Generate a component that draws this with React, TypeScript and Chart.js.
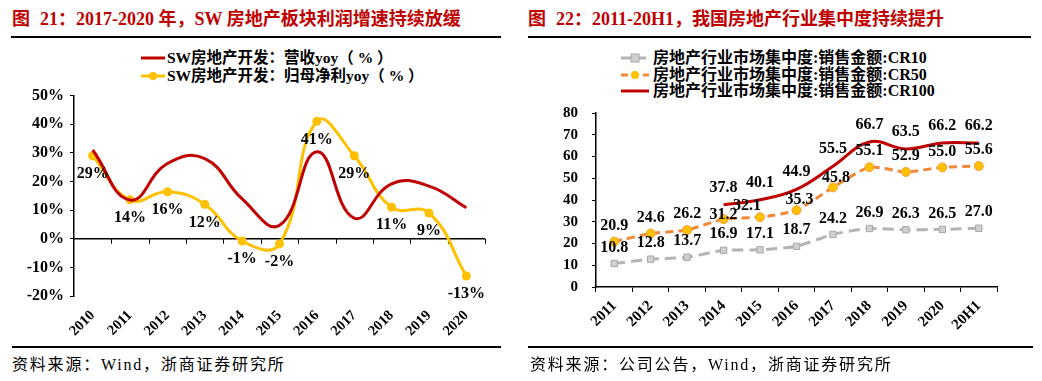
import React, { useEffect, useRef } from "react";
import { Chart, registerables } from "chart.js";

Chart.register(...registerables);

const FONT = '"Liberation Serif", "Noto Sans CJK SC", serif';

// ---- Left chart data ----
const leftYears = ["2010", "2011", "2012", "2013", "2014", "2015", "2016", "2017", "2018", "2019", "2020"];
const revenueYoy = [31, 13.5, 26.3, 28, 13.9, 4.7, 30.4, 7.2, 19.2, 18.4, 10.8];
const profitYoy = [29, 13.6, 16.4, 12, -0.8, -1.8, 41, 29, 11, 9, -13];
const leftYMin = -20;
const leftYMax = 50;
const leftYStep = 10;

// ---- Right chart data ----
const rightPeriods = ["2011", "2012", "2013", "2014", "2015", "2016", "2017", "2018", "2019", "2020", "20H1"];
const cr10 = [10.8, 12.8, 13.7, 16.9, 17.1, 18.7, 24.2, 26.9, 26.3, 26.5, 27.0];
const cr50 = [20.9, 24.6, 26.2, 31.2, 32.1, 35.3, 45.8, 55.1, 52.9, 55.0, 55.6];
const cr100 = [null, null, null, 37.8, 40.1, 44.9, 55.5, 66.7, 63.5, 66.2, 66.2];
const rightYMin = 0;
const rightYMax = 80;
const rightYStep = 10;

const RED = "#c00000";
const YELLOW = "#ffc000";
const ORANGE = "#f0883a";
const GREY = "#b4b4b4";

type LabelCfg = {
  dataset: number;
  format: (v: number) => string;
  dy: number;
  offsets?: ([number, number] | null)[];
};

function makeLabelPlugin(cfgs: LabelCfg[], fontSize: number) {
  return {
    id: "valueLabels",
    afterDatasetsDraw(chart: any) {
      const ctx = chart.ctx;
      ctx.save();
      ctx.font = `bold ${fontSize}px ${FONT}`;
      ctx.fillStyle = "#000";
      ctx.textAlign = "center";
      ctx.textBaseline = "middle";
      cfgs.forEach((cfg) => {
        const ds = chart.data.datasets[cfg.dataset];
        const meta = chart.getDatasetMeta(cfg.dataset);
        meta.data.forEach((el: any, j: number) => {
          const v = ds.data[j];
          if (v == null) return;
          const off = cfg.offsets && cfg.offsets[j] ? cfg.offsets[j]! : [0, cfg.dy];
          ctx.fillText(cfg.format(v), el.x + off[0], el.y + off[1]);
        });
      });
      ctx.restore();
    },
  };
}

const zeroLinePlugin = {
  id: "zeroLine",
  beforeDatasetsDraw(chart: any) {
    const { ctx, chartArea, scales } = chart;
    const y0 = scales.y.getPixelForValue(0);
    const n = chart.data.labels.length;
    const w = (chartArea.right - chartArea.left) / n;
    ctx.save();
    ctx.strokeStyle = "#000";
    ctx.lineWidth = 1.5;
    ctx.beginPath();
    ctx.moveTo(chartArea.left, y0);
    ctx.lineTo(chartArea.right, y0);
    ctx.stroke();
    ctx.lineWidth = 1;
    for (let i = 1; i <= n; i++) {
      const x = Math.round(chartArea.left + i * w) + 0.5;
      ctx.beginPath();
      ctx.moveTo(x, y0);
      ctx.lineTo(x, y0 + 5);
      ctx.stroke();
    }
    ctx.restore();
  },
};

function LeftChart() {
  const ref = useRef<HTMLCanvasElement>(null);
  useEffect(() => {
    const chart = new Chart(ref.current!, {
      type: "line",
      data: {
        labels: leftYears,
        datasets: [
          {
            label: "SW房地产开发：营收yoy（%）",
            data: revenueYoy,
            borderColor: RED,
            backgroundColor: RED,
            borderWidth: 3,
            pointRadius: 0,
            tension: 0.45,
          },
          {
            label: "SW房地产开发：归母净利yoy（%）",
            data: profitYoy,
            borderColor: YELLOW,
            backgroundColor: YELLOW,
            borderWidth: 3,
            pointRadius: 4.5,
            pointBorderWidth: 0,
            tension: 0.45,
          },
        ],
      },
      options: {
        responsive: false,
        animation: false,
        devicePixelRatio: 1,
        layout: { padding: { top: 12, right: 15, left: 0, bottom: 0 } },
        plugins: { legend: { display: false }, tooltip: { enabled: false } },
        scales: {
          x: {
            offset: true,
            grid: { display: false, drawTicks: false },
            border: { display: false },
            ticks: {
              minRotation: 45,
              maxRotation: 45,
              autoSkip: false,
              padding: 11,
              color: "#000",
              font: { family: FONT, size: 14.5, weight: "bold" },
            },
            afterFit: (s: any) => {
              s.height = 49;
            },
          },
          y: {
            min: leftYMin,
            max: leftYMax,
            ticks: {
              stepSize: leftYStep,
              padding: 6,
              color: "#000",
              font: { family: FONT, size: 16, weight: "bold" },
              callback: (v: any) => `${v}%`,
            },
            grid: { drawOnChartArea: false, drawTicks: true, tickLength: 4, color: "#000" },
            border: { display: true, color: "#000", width: 1.5 },
            afterFit: (s: any) => {
              s.width = 74;
            },
          },
        },
      },
      plugins: [
        zeroLinePlugin,
        makeLabelPlugin([{ dataset: 1, format: (v) => `${Math.round(v)}%`, dy: 18 }], 16),
      ],
    } as any);
    return () => chart.destroy();
  }, []);
  return <canvas ref={ref} width={500} height={265} style={{ position: "absolute", left: 0, top: 80 }} />;
}

function RightChart() {
  const ref = useRef<HTMLCanvasElement>(null);
  useEffect(() => {
    const chart = new Chart(ref.current!, {
      type: "line",
      data: {
        labels: rightPeriods,
        datasets: [
          {
            label: "房地产行业市场集中度:销售金额:CR10",
            data: cr10,
            borderColor: GREY,
            backgroundColor: "#d0d0d0",
            borderWidth: 3,
            borderDash: [11, 6],
            pointStyle: "rect",
            pointRadius: 4.5,
            pointBorderColor: "#a8a8a8",
            pointBorderWidth: 1,
            tension: 0.2,
          },
          {
            label: "房地产行业市场集中度:销售金额:CR50",
            data: cr50,
            borderColor: ORANGE,
            backgroundColor: YELLOW,
            borderWidth: 3,
            borderDash: [8, 5],
            pointRadius: 4.5,
            pointBorderColor: "#f5a040",
            pointBorderWidth: 1,
            tension: 0.2,
          },
          {
            label: "房地产行业市场集中度:销售金额:CR100",
            data: cr100,
            borderColor: RED,
            backgroundColor: RED,
            borderWidth: 3,
            pointRadius: 0,
            tension: 0.4,
          },
        ],
      },
      options: {
        responsive: false,
        animation: false,
        devicePixelRatio: 1,
        layout: { padding: { top: 12, right: 38, left: 0, bottom: 0 } },
        plugins: { legend: { display: false }, tooltip: { enabled: false } },
        scales: {
          x: {
            offset: true,
            grid: { offset: true, drawOnChartArea: false, drawTicks: true, tickLength: 5, color: "#000" },
            border: { display: true, color: "#000", width: 1.5 },
            ticks: {
              minRotation: 45,
              maxRotation: 45,
              autoSkip: false,
              padding: 5,
              color: "#000",
              font: { family: FONT, size: 15, weight: "bold" },
            },
            afterFit: (s: any) => {
              s.height = 63;
            },
          },
          y: {
            min: rightYMin,
            max: rightYMax,
            ticks: {
              stepSize: rightYStep,
              padding: 14,
              color: "#000",
              font: { family: FONT, size: 15, weight: "bold" },
            },
            grid: { drawOnChartArea: false, drawTicks: true, tickLength: 4, color: "#000" },
            border: { display: true, color: "#000", width: 1.5 },
            afterFit: (s: any) => {
              s.width = 76;
            },
          },
        },
      },
      plugins: [
        makeLabelPlugin(
          [
            { dataset: 0, format: (v) => v.toFixed(1), dy: -16 },
            {
              dataset: 1,
              format: (v) => v.toFixed(1),
              dy: -16,
              offsets: [null, null, null, [0, -4], [-13, -11], [3, -10], [3, -10], null, null, null, null],
            },
            { dataset: 2, format: (v) => v.toFixed(1), dy: -17 },
          ],
          16
        ),
      ],
    } as any);
    return () => chart.destroy();
  }, []);
  return <canvas ref={ref} width={515} height={260} style={{ position: "absolute", left: 520, top: 90 }} />;
}

const abs = (s: React.CSSProperties): React.CSSProperties => ({ position: "absolute", ...s });

function LineSample({ color, dash, marker, width }: { color: string; dash?: string; marker?: "circle" | "rect"; width: number }) {
  return (
    <svg width={width} height={10} style={{ display: "block" }}>
      <line x1={0} y1={5} x2={width} y2={5} stroke={color} strokeWidth={3} strokeDasharray={dash} />
      {marker === "circle" && <circle cx={width / 2} cy={5} r={4} fill={YELLOW} />}
      {marker === "rect" && <rect x={width / 2 - 4} y={1} width={8} height={8} fill="#d0d0d0" stroke="#a8a8a8" strokeWidth={1} />}
    </svg>
  );
}

export default function App() {
  const titleStyle: React.CSSProperties = {
    fontSize: 18,
    fontWeight: "bold",
    color: RED,
    lineHeight: "22px",
    whiteSpace: "nowrap",
  };
  const legendText: React.CSSProperties = {
    fontWeight: "bold",
    color: "#000",
    whiteSpace: "nowrap",
    display: "flex",
    alignItems: "center",
  };
  const sourceStyle: React.CSSProperties = {
    fontSize: 16,
    letterSpacing: 1.8,
    color: "#000",
    whiteSpace: "nowrap",
    lineHeight: "20px",
  };
  return (
    <div style={abs({ left: 0, top: 0, width: 1042, height: 381, background: "#fff", fontFamily: FONT, overflow: "hidden" })}>
      {/* Left panel */}
      <div style={abs({ left: 12, top: 8, ...titleStyle })}>
        图<span style={{ marginLeft: 10 }}>21：2017-2020 年，SW 房地产板块利润增速持续放缓</span>
      </div>
      <div style={abs({ left: 11, top: 36, width: 490, height: 1.5, background: "#000" })} />
      <div style={abs({ left: 141, top: 49, fontSize: 15.5, lineHeight: "18px" })}>
        <div style={legendText}>
          <LineSample color={RED} width={24} />
          <span style={{ marginLeft: 2 }}>SW房地产开发：营收yoy（ % ）</span>
        </div>
        <div style={legendText}>
          <LineSample color={YELLOW} marker="circle" width={24} />
          <span style={{ marginLeft: 2 }}>SW房地产开发：归母净利yoy（ % ）</span>
        </div>
      </div>
      <LeftChart />
      <div style={abs({ left: 12, top: 346, width: 489, height: 1.5, background: "#000" })} />
      <div style={abs({ left: 12, top: 355, ...sourceStyle })}>资料来源：Wind，浙商证券研究所</div>

      {/* Right panel */}
      <div style={abs({ left: 528, top: 8, ...titleStyle })}>
        图<span style={{ marginLeft: 10 }}>22：2011-20H1，我国房地产行业集中度持续提升</span>
      </div>
      <div style={abs({ left: 528, top: 36, width: 503, height: 1.5, background: "#000" })} />
      <div style={abs({ left: 621, top: 50, fontSize: 16, lineHeight: "16.5px" })}>
        <div style={legendText}>
          <LineSample color={GREY} dash="10 5" marker="rect" width={28} />
          <span style={{ marginLeft: 4 }}>房地产行业市场集中度:销售金额:CR10</span>
        </div>
        <div style={legendText}>
          <LineSample color={ORANGE} dash="7 4" marker="circle" width={28} />
          <span style={{ marginLeft: 4 }}>房地产行业市场集中度:销售金额:CR50</span>
        </div>
        <div style={legendText}>
          <LineSample color={RED} width={28} />
          <span style={{ marginLeft: 4 }}>房地产行业市场集中度:销售金额:CR100</span>
        </div>
      </div>
      <RightChart />
      <div style={abs({ left: 528, top: 346, width: 505, height: 1.5, background: "#000" })} />
      <div style={abs({ left: 530, top: 355, ...sourceStyle })}>资料来源：公司公告，Wind，浙商证券研究所</div>
    </div>
  );
}
